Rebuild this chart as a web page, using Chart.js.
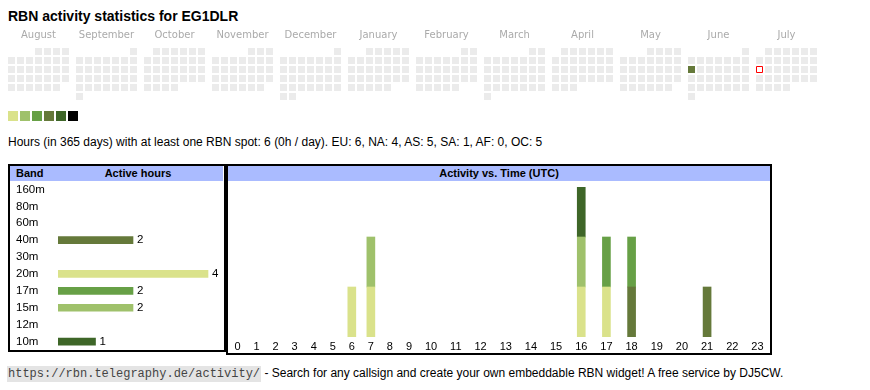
<!DOCTYPE html>
<html>
<head>
<meta charset="utf-8">
<script src="https://cdn.jsdelivr.net/npm/chart.js@4/dist/chart.umd.min.js"></script>
<style>
body{margin:0;width:870px;height:390px;background:#fff;font-family:"Liberation Sans",Arial,sans-serif;color:#000;position:relative;overflow:hidden}
.a{position:absolute}
#title{left:8px;top:7px;font-size:14px;font-weight:bold;line-height:18px}
#swatches{left:8px;top:111px;display:flex;gap:2px}
#swatches div{width:10px;height:10px}
#summary{left:8px;top:135px;font-size:12px;line-height:15px;white-space:nowrap}
.box{border:2px solid #000;box-sizing:border-box}
.head{background:#aabbff;height:15px;font-size:11px;font-weight:bold;line-height:15px}
#footer{left:7px;top:366px;font-size:12px;line-height:15px;white-space:nowrap}
#footer code{font-family:"Liberation Mono",monospace;font-size:12px;background:#e4e4e4;color:#444;padding:1px 1px}
</style>
</head>
<body>
<div id="title" class="a">RBN activity statistics for EG1DLR</div>
<canvas id="cal" class="a" width="816" height="74" style="left:7px;top:27px"></canvas>
<div id="swatches" class="a"></div>
<div id="summary" class="a">Hours (in 365 days) with at least one RBN spot: 6 (0h / day). EU: 6, NA: 4, AS: 5, SA: 1, AF: 0, OC: 5</div>

<div class="a box" style="left:8px;top:164px;width:218px;height:188px"></div>
<div class="a head" style="left:10px;top:166px;width:213px"></div>
<div class="a" style="left:16px;top:166px;font-size:11px;font-weight:bold;line-height:15px">Band</div>
<div class="a" style="left:82px;top:166px;width:112px;text-align:center;font-size:11px;font-weight:bold;line-height:15px">Active hours</div>
<canvas id="bands" class="a" width="213" height="169" style="left:10px;top:181px"></canvas>

<div class="a box" style="left:226px;top:164px;width:546px;height:191px"></div>
<div class="a head" style="left:228px;top:166px;width:542px;text-align:center">Activity vs. Time (UTC)</div>
<canvas id="hours" class="a" width="542" height="172" style="left:228px;top:181px"></canvas>

<div id="footer" class="a"><code>https://rbn.telegraphy.de/activity/</code> - Search for any callsign and create your own embeddable RBN widget! A free service by DJ5CW.</div>

<script>
// calendar: 12 months, Aug 2024 .. Jul 2025
MONTHS = ["August","September","October","November","December","January","February","March","April","May","June","July"];
START_YEAR = 2024;
START_MONTH = 7; // august, 0 based
LEVEL_COLORS = ["#dae28b","#9fc16b","#67a046","#65793a","#3e6628","#000000"];
ACTIVE_DAYS = ["2025-06-09"];
ACTIVE_LEVELS = [4];
TODAY = "2025-07-14";

// bands and the UTC hours they were heard in
BANDS = ["160m","80m","60m","40m","30m","20m","17m","15m","12m","10m"];
BAND_COLORS = ["#3e6628","#9fc16b","#67a046","#65793a","#dae28b","#dae28b","#67a046","#9fc16b","#65793a","#3e6628"];
HOURS = ["0","1","2","3","4","5","6","7","8","9","10","11","12","13","14","15","16","17","18","19","20","21","22","23"];
hours160m = [];
hours80m = [];
hours60m = [];
hours40m = [18, 21];
hours30m = [];
hours20m = [6, 7, 16, 17];
hours17m = [17, 18];
hours15m = [7, 16];
hours12m = [];
hours10m = [16];
BAND_HOURS = [hours160m,hours80m,hours60m,hours40m,hours30m,hours20m,hours17m,hours15m,hours12m,hours10m];

Chart.defaults.font.family = '"Liberation Sans", Arial, sans-serif';
Chart.defaults.font.size = 11;
Chart.defaults.color = "#000";
Chart.defaults.animation = false;
Chart.defaults.events = [];
Chart.defaults.layout.autoPadding = false;
Chart.defaults.plugins.legend.display = false;
Chart.defaults.plugins.tooltip.enabled = false;

// legend swatches
var sw = document.getElementById("swatches");
LEVEL_COLORS.forEach(function(c){var d=document.createElement("div");d.style.background=c;sw.appendChild(d);});

// ---------- calendar ----------
var PITCH = 9;            // px per day column
var BLOCK = 7 + 5/PITCH;  // one month block incl. gap
var cells = [], today = [];
for (var m = 0; m < 12; m++) {
    var y = START_YEAR + Math.floor((START_MONTH + m) / 12);
    var mo = (START_MONTH + m) % 12;
    var first = (new Date(Date.UTC(y, mo, 1)).getUTCDay() + 6) % 7;
    var days = new Date(Date.UTC(y, mo + 1, 0)).getUTCDate();
    for (var d = 1; d <= days; d++) {
        var iso = y + "-" + String(mo + 1).padStart(2, "0") + "-" + String(d).padStart(2, "0");
        var col = (first + d - 1) % 7;
        var row = Math.floor((first + d - 1) / 7);
        var k = ACTIVE_DAYS.indexOf(iso);
        var pt = {x: m * BLOCK + col, y: row, level: k < 0 ? 0 : ACTIVE_LEVELS[k]};
        if (iso === TODAY) today.push(pt); else cells.push(pt);
    }
}
var monthLabels = {
    id: "monthLabels",
    afterDraw: function(chart) {
        var ctx = chart.ctx, x = chart.scales.x;
        ctx.save();
        ctx.font = '10px "DejaVu Sans"';
        ctx.fillStyle = "#aaaaaa";
        ctx.textAlign = "center";
        ctx.textBaseline = "middle";
        MONTHS.forEach(function(name, i){ ctx.fillText(name, x.getPixelForValue(i * BLOCK + 3), 8); });
        ctx.restore();
    }
};
new Chart("cal", {
    type: "scatter",
    data: {datasets: [
        {data: today, pointStyle: "rect", pointRadius: 6 * Math.SQRT1_2, pointBackgroundColor: "#ffffff",
         pointBorderColor: "#ff0000", pointBorderWidth: 1, clip: false},
        {data: cells, pointStyle: "rect", pointRadius: 7 * Math.SQRT1_2, pointBorderWidth: 0, clip: false,
         pointBackgroundColor: function(c){ var l = c.raw ? c.raw.level : 0; return l ? LEVEL_COLORS[l - 1] : "#ebebeb"; }}
    ]},
    options: {
        responsive: false,
        layout: {padding: {top: 20, left: 0, right: 0, bottom: 0}},
        scales: {
            x: {type: "linear", display: false, min: -0.5, max: -0.5 + 816 / PITCH},
            y: {type: "linear", display: false, min: -0.5, max: 5.5, reverse: true}
        }
    },
    plugins: [monthLabels]
});

// ---------- active hours per band ----------
var bandCounts = BAND_HOURS.map(function(h){ return h.length || null; });
var valueLabels = {
    id: "valueLabels",
    afterDatasetsDraw: function(chart) {
        var ctx = chart.ctx, meta = chart.getDatasetMeta(0);
        ctx.save();
        ctx.font = '11.5px "Liberation Sans"';
        ctx.fillStyle = "#000";
        ctx.textBaseline = "middle";
        meta.data.forEach(function(bar, i){ var v = bandCounts[i]; if (v) ctx.fillText(v, bar.x + 4, bar.y); });
        ctx.restore();
    }
};
new Chart("bands", {
    type: "bar",
    data: {labels: BANDS, datasets: [{data: bandCounts, backgroundColor: BAND_COLORS, barThickness: 7}]},
    options: {
        indexAxis: "y",
        responsive: false,
        layout: {padding: {left: 6, right: 0, top: 0, bottom: 0}},
        scales: {
            x: {display: false, min: 0, max: Math.max.apply(null, bandCounts) * 1.1},
            y: {grid: {display: false, drawTicks: false}, border: {display: false},
                ticks: {crossAlign: "far", font: {size: 11.5}, color: "#000"},
                afterFit: function(s){ s.width = 42; s.paddingTop = 0; s.paddingBottom = 0; }}
        }
    },
    plugins: [valueLabels]
});

// ---------- activity vs time ----------
// columns sized like an html table: label width + equal padding
class ColumnScale extends Chart.CategoryScale {
    getPixelForValue(value) {
        if (typeof value !== "number") value = this.parse(value);
        var ctx = this.ctx;
        ctx.save();
        ctx.font = Chart.helpers.toFont(this.options.ticks.font).string;
        var w = this.getLabels().map(function(l){ return ctx.measureText(l).width; });
        ctx.restore();
        var pad = (this.width - w.reduce(function(a, b){ return a + b; }, 0)) / w.length;
        var x = this.left;
        for (var i = 0; i < value; i++) x += w[i] + pad;
        return x + (w[value] + pad) / 2;
    }
}
ColumnScale.id = "column";
ColumnScale.defaults = Chart.CategoryScale.defaults;
Chart.register(ColumnScale);

var hourSets = BANDS.map(function(b, i){
    return {label: b, data: HOURS.map(function(h){ return BAND_HOURS[i].indexOf(+h) >= 0 ? 1 : null; }),
            backgroundColor: BAND_COLORS[i], barThickness: 8, stack: "all"};
});
var maxStack = Math.max.apply(null, HOURS.map(function(h, j){
    return hourSets.reduce(function(s, ds){ return s + (ds.data[j] || 0); }, 0);
}));
new Chart("hours", {
    type: "bar",
    data: {labels: HOURS, datasets: hourSets},
    options: {
        responsive: false,
        layout: {padding: {top: 6, left: 0, right: 0, bottom: 0}},
        scales: {
            x: {type: "column", stacked: true, grid: {display: false, drawTicks: false}, border: {display: false},
                ticks: {autoSkip: false, maxRotation: 0, padding: 3, color: "#000", font: {size: 11}},
                afterFit: function(s){ s.height = 16; }},
            y: {stacked: true, display: false, min: 0, max: maxStack}
        }
    }
});
</script>
</body>
</html>
